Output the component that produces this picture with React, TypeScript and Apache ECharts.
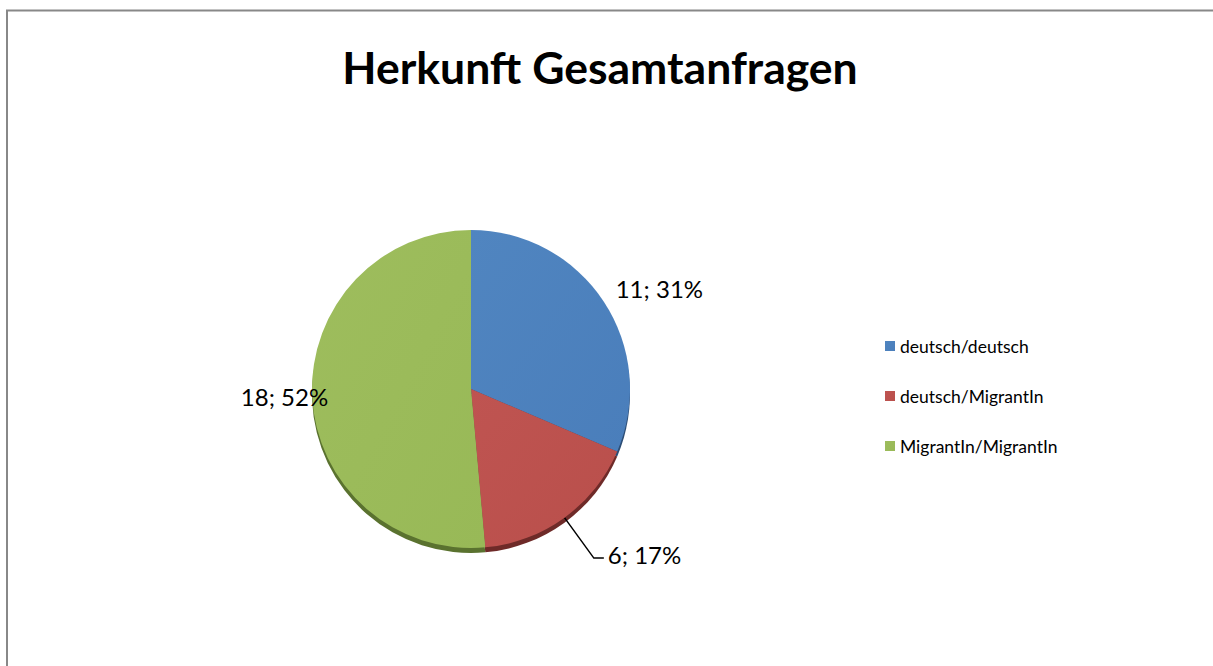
import React, { useEffect, useRef } from "react";
import * as echarts from "echarts";

const TITLE = "Herkunft Gesamtanfragen";
const CATEGORIES = ["deutsch/deutsch", "deutsch/MigrantIn", "MigrantIn/MigrantIn"];
const VALUES = [11, 6, 18];
const PERCENT_LABELS = ["31%", "17%", "52%"];
const COLORS = ["#4a7ebb", "#b94f4b", "#98b957"];
const LIGHT_COLORS = ["#5085c0", "#bf5451", "#9ebd5d"];
const RIM_COLORS = ["#2c4d75", "#6e2a28", "#5a722f"];

const FONT = "Lato, 'Noto Sans', sans-serif";

export default function App() {
  const ref = useRef<HTMLDivElement>(null);
  useEffect(() => {
    document.body.style.margin = "0";
    const chart = echarts.init(ref.current!, null, { renderer: "svg" });
    const center = [471, 389];
    const radius = 159;
    const mainData = CATEGORIES.map((name, i) => ({
      name,
      value: VALUES[i],
      itemStyle: {
        color: new echarts.graphic.LinearGradient(0, 0, 1, 1, [
          { offset: 0, color: LIGHT_COLORS[i] },
          { offset: 1, color: COLORS[i] },
        ]),
      },
      label: {
        show: true,
        formatter: `${VALUES[i]}; ${PERCENT_LABELS[i]}`,
      },
      labelLine: i === 1 ? { show: true, length: 50, length2: 10 } : { show: false, length: 0, length2: 0 },
    }));
    const rimData = CATEGORIES.map((name, i) => ({
      name: name + " ",
      value: VALUES[i],
      itemStyle: { color: RIM_COLORS[i] },
    }));
    chart.setOption({
      animation: false,
      backgroundColor: "#ffffff",
      title: {
        text: TITLE,
        left: 595,
        textAlign: "center",
        top: 39,
        textStyle: { fontFamily: FONT, fontSize: 44.5, fontWeight: "bold", color: "#000" },
      },
      legend: {
        orient: "vertical",
        left: 885,
        top: 337,
        padding: 0,
        data: CATEGORIES,
        icon: "rect",
        itemWidth: 10,
        itemHeight: 10,
        itemGap: 32,
        textStyle: { fontFamily: FONT, fontSize: 17.5, color: "#000" },
        selectedMode: false,
      },
      graphic: [
        {
          type: "rect",
          shape: { x: 7, y: 10.5, width: 1400, height: 800 },
          style: { fill: "none", stroke: "#888888", lineWidth: 2 },
          silent: true,
          z: -1,
        },
      ],
      series: [
        {
          type: "pie",
          silent: true,
          center: [center[0], center[1] + 5],
          radius,
          startAngle: 90,
          label: { show: false },
          labelLine: { show: false },
          data: rimData,
          z: 1,
        },
        {
          type: "pie",
          center,
          radius,
          startAngle: 90,
          z: 2,
          label: {
            position: "outside",
            fontFamily: FONT,
            fontSize: 24,
            color: "#000",
            distanceToLabelLine: 4,
          },
          labelLine: { lineStyle: { color: "#000", width: 1.5 }, smooth: false },
          labelLayout: (params: any) => {
            if (params.dataIndex === 0) return { dx: 8, dy: -13 };
            if (params.dataIndex === 2) return { dx: 20, dy: 0 };
            return { dy: -4 };
          },
          data: mainData,
        },
      ],
    });
    return () => chart.dispose();
  }, []);
  return <div ref={ref} style={{ width: 1213, height: 666 }} />;
}
